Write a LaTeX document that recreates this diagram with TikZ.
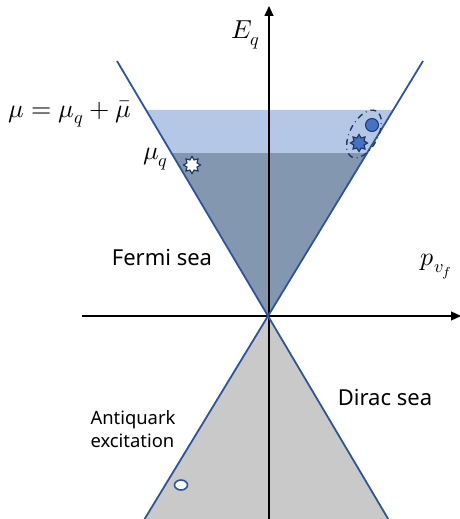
\documentclass[tikz,border=0pt]{standalone}
\usepackage{fontspec}
\setmainfont{Noto Sans}
\usepackage{unicode-math}
\setmathfont{Latin Modern Math}
\usetikzlibrary{calc,shapes.geometric,arrows.meta}
\definecolor{coneblue}{HTML}{2F5597}
\definecolor{lightband}{HTML}{B4C7E7}
\definecolor{darkband}{HTML}{8497B0}
\definecolor{diracgray}{HTML}{C9C9C9}
\definecolor{partblue}{HTML}{4472C4}
\definecolor{navy}{HTML}{203864}
\tikzset{
  axis/.style={line width=0.6pt,black,-{Triangle[length=5pt,width=4.5pt]}},
  cone/.style={line width=0.9pt,coneblue},
  lbl/.style={inner sep=0pt,font=\fontsize{11}{13}\selectfont},
  mlbl/.style={inner sep=0pt,font=\fontsize{13}{15}\selectfont},
  starshape/.style={star,star points=8,star point ratio=1.55,minimum size=8.5pt,inner sep=0pt,line width=0.6pt},
}
\begin{document}
\begin{tikzpicture}[x=0.5pt,y=-0.5pt]
\useasboundingbox (0,0) rectangle (460,519);
\coordinate (O) at (268,316);
\coordinate (TL) at (117,61);
\coordinate (TR) at (423,61);
\coordinate (A1) at ($(O)!0.808!(TL)$);
\coordinate (A2) at ($(O)!0.808!(TR)$);
\coordinate (B1) at ($(O)!0.639!(TL)$);
\coordinate (B2) at ($(O)!0.639!(TR)$);
\coordinate (BL) at ($(O)!-0.796!(TR)$);
\coordinate (BR) at ($(O)!-0.796!(TL)$);
% fills
\fill[lightband] (A1) -- (A2) -- (B2) -- (B1) -- cycle;
\fill[darkband] (B1) -- (B2) -- (O) -- cycle;
\fill[diracgray] (O) -- (BL) -- (BR) -- cycle;
% axes
\coordinate (Ybot) at (269,519);
\coordinate (Ytop) at (269,6);
\coordinate (Xl) at (82,316);
\coordinate (Xr) at (461,316);
\draw[axis] (Ybot) -- (Ytop);
\draw[axis] (Xl) -- (Xr);
% cone
\draw[cone] (TL) -- (BR);
\draw[cone] (TR) -- (BL);
% labels
\node[mlbl] (mu) at (70,114) {$\mu=\mu_q+\bar{\mu}$};
\node[mlbl] (muq) at (156,159) {$\mu_q$};
\node[mlbl] (Eq) at (246,35) {$E_q$};
\node[mlbl] (pvf) at (437,267) {$p_{v_f}$};
\node[lbl] (fermi) at (162,258) {Fermi sea};
\node[lbl] (dirac) at (385,397) {Dirac sea};
\node[lbl,font=\fontsize{9.2}{11.5}\selectfont,align=left] (anti) at (133,429) {Antiquark\\excitation};
% particles
\node[starshape,draw=navy,fill=white] (wstar) at (192,165) {};
\node[starshape,draw=navy,fill=partblue] (bstar) at (359,143) {};
\node[circle,draw=navy,fill=partblue,minimum size=6.5pt,inner sep=0pt,line width=0.5pt] (bdot) at (372,125) {};
\node[ellipse,draw=coneblue,fill=white,minimum width=6.5pt,minimum height=5pt,inner sep=0pt,line width=0.8pt] (hole) at (181,485) {};
\node[ellipse,draw=navy,dash dot,line width=0.7pt,minimum width=26pt,minimum height=14pt,inner sep=0pt,rotate=62] (pair) at (364,134) {};
\end{tikzpicture}
\end{document}
